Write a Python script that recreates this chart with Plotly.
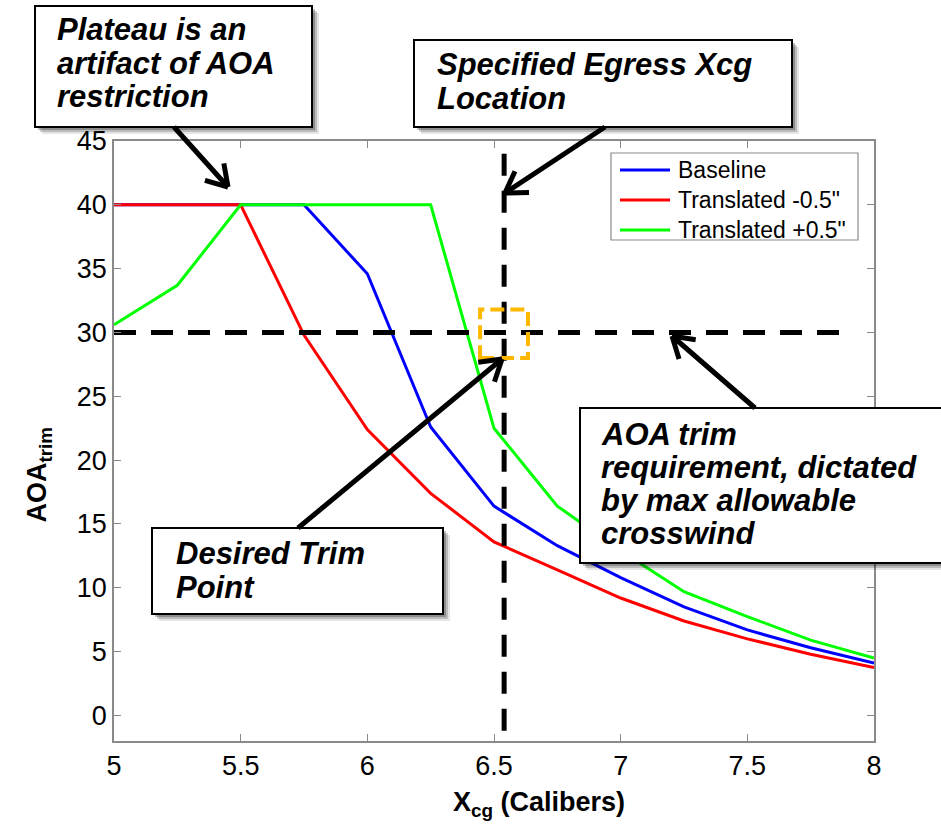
import math
import plotly.graph_objects as go

# ---------------- data ----------------
xcg = [5.0, 5.25, 5.5, 5.75, 6.0, 6.25, 6.5, 6.75, 7.0, 7.25, 7.5, 7.75, 8.0]
baseline = [40, 40, 40, 40, 34.6, 22.6, 16.4, 13.3, 10.8, 8.5, 6.7, 5.3, 4.1]
trans_minus = [40, 40, 40, 29.8, 22.4, 17.4, 13.6, 11.4, 9.2, 7.4, 6.0, 4.8, 3.75]
trans_plus = [30.6, 33.7, 40, 40, 40, 40, 22.5, 16.4, 12.9, 9.7, 7.75, 5.9, 4.5]

aoa_req = 30            # AOA trim requirement
egress_xcg = 6.54       # specified egress Xcg location
trim_box_x = [6.445, 6.634]
trim_box_y = [28.0, 31.8]

series_names = ["Baseline", 'Translated -0.5"', 'Translated +0.5"']
series_colors = ["#0000FF", "#FF0000", "#00FF00"]
x_ticks = [5, 5.5, 6, 6.5, 7, 7.5, 8]
x_ticklabels = ["5", "5.5", "6", "6.5", "7", "7.5", "8"]
y_ticks = list(range(0, 50, 5))

# ---------------- layout helpers (pixel -> paper) ----------------
W, H = 941, 830
PL, PR, PT, PB = 114, 874, 141, 741
PW, PH = PR - PL, PB - PT


def px(x):
    return (x - PL) / PW


def py(y):
    return (PB - y) / PH


FONT = "Liberation Sans, Arial, Helvetica, sans-serif"

fig = go.Figure()
for name, ys, col in zip(series_names, [baseline, trans_minus, trans_plus], series_colors):
    fig.add_trace(go.Scatter(x=xcg, y=ys, mode="lines", name=name,
                             line=dict(color=col, width=3), showlegend=False))

fig.add_trace(go.Scatter(x=[5.0, 7.92], y=[aoa_req, aoa_req], mode="lines",
                         line=dict(color="black", width=5, dash="22px,15px"),
                         showlegend=False, hoverinfo="skip"))
fig.add_trace(go.Scatter(x=[egress_xcg, egress_xcg], y=[-1.2, 44.2], mode="lines",
                         line=dict(color="black", width=5, dash="22px,15px"),
                         showlegend=False, hoverinfo="skip"))

shapes = []
annotations = []

# orange dashed desired-trim box
shapes.append(dict(type="rect", xref="x", yref="y",
                   x0=trim_box_x[0], x1=trim_box_x[1], y0=trim_box_y[0], y1=trim_box_y[1],
                   line=dict(color="#FFB800", width=4, dash="14px,6px"),
                   fillcolor="rgba(0,0,0,0)"))

# legend (MATLAB style box)
LX0, LY0, LX1, LY1 = 611, 153, 858, 240
shapes.append(dict(type="rect", xref="paper", yref="paper",
                   x0=px(LX0), x1=px(LX1), y0=py(LY1), y1=py(LY0),
                   line=dict(color="#8a8a8a", width=1.2), fillcolor="white"))
for i, (name, col) in enumerate(zip(series_names, series_colors)):
    yy = 170 + 30 * i
    shapes.append(dict(type="line", xref="paper", yref="paper",
                       x0=px(620), x1=px(670), y0=py(yy), y1=py(yy),
                       line=dict(color=col, width=3)))
    annotations.append(dict(xref="paper", yref="paper", x=px(676), y=py(yy),
                            xanchor="left", yanchor="middle", showarrow=False,
                            text=name, font=dict(family=FONT, size=23, color="black")))


def callout_box(x0, y0, x1, y1):
    out = []
    for off, op in [(7, 0.10), (5, 0.18), (3, 0.25)]:
        out.append(dict(type="rect", xref="paper", yref="paper",
                        x0=px(x0 + off), x1=px(x1 + off), y0=py(y1 + off), y1=py(y0 + off),
                        line=dict(width=0), fillcolor=f"rgba(0,0,0,{op})"))
    out.append(dict(type="rect", xref="paper", yref="paper",
                    x0=px(x0), x1=px(x1), y0=py(y1), y1=py(y0),
                    line=dict(color="black", width=2), fillcolor="white"))
    return out


def arrow(tx, ty, hx, hy, wing=24, ang=32):
    dx, dy = hx - tx, hy - ty
    L = math.hypot(dx, dy)
    ux, uy = dx / L, dy / L
    out = [dict(type="line", xref="paper", yref="paper",
                x0=px(tx), y0=py(ty), x1=px(hx), y1=py(hy),
                line=dict(color="black", width=5))]
    for s in (1, -1):
        a = math.radians(ang) * s
        bx = -ux * math.cos(a) + uy * math.sin(a)
        by = -uy * math.cos(a) - ux * math.sin(a)
        out.append(dict(type="line", xref="paper", yref="paper",
                        x0=px(hx), y0=py(hy), x1=px(hx + bx * wing), y1=py(hy + by * wing),
                        line=dict(color="black", width=5)))
    return out


boxes = [
    ((35, 6, 312, 127), 55, [(30, "Plateau is an"), (64, "artifact of AOA"), (96, "restriction")]),
    ((414, 40, 792, 127), 435, [(65, "Specified Egress Xcg"), (99, "Location")]),
    ((580, 408, 950, 563), 599, [(434, "AOA trim"), (467, "requirement, dictated"),
                                 (500, "by max allowable"), (533, "crosswind")]),
    ((152, 528, 443, 614), 174, [(553, "Desired Trim"), (587, "Point")]),
]

for (x0, y0, x1, y1), tx, lines in boxes:
    shapes += callout_box(x0, y0, x1, y1)
    for yy, t in lines:
        annotations.append(dict(xref="paper", yref="paper", x=px(tx), y=py(yy),
                                xanchor="left", yanchor="middle", showarrow=False,
                                text=f"<b><i>{t}</i></b>",
                                font=dict(family=FONT, size=31, color="black")))

shapes += arrow(174, 127, 228, 187)
shapes += arrow(605, 127, 505, 193)
shapes += arrow(755, 408, 672, 336)
shapes += arrow(298, 528, 502, 359)

NB = "&nbsp;"
axis_common = dict(showline=True, linecolor="#8a8a8a", linewidth=1.5, mirror="ticks",
                   ticks="inside", ticklen=7, tickcolor="#8a8a8a", tickwidth=1.2,
                   showgrid=False, zeroline=False,
                   tickfont=dict(family=FONT, size=27, color="black"))

fig.update_layout(
    width=W, height=H,
    margin=dict(l=PL, r=W - PR, t=PT, b=H - PB),
    paper_bgcolor="white", plot_bgcolor="white",
    xaxis=dict(range=[5, 8], tickvals=x_ticks, ticktext=x_ticklabels,
               title=dict(text=NB * 12 + "<b>X<sub>cg</sub> (Calibers)</b>",
                          font=dict(family=FONT, size=27, color="black"), standoff=12),
               automargin=False, **axis_common),
    yaxis=dict(range=[-2, 45], tickvals=y_ticks,
               title=dict(text="<b>AOA<sub>trim</sub></b>" + NB * 9,
                          font=dict(family=FONT, size=27, color="black"), standoff=22),
               automargin=False, **axis_common),
    shapes=shapes, annotations=annotations,
    showlegend=False,
)

fig.write_html("out.html", config={"displayModeBar": False},
               post_script="document.body.style.margin='0px';")
